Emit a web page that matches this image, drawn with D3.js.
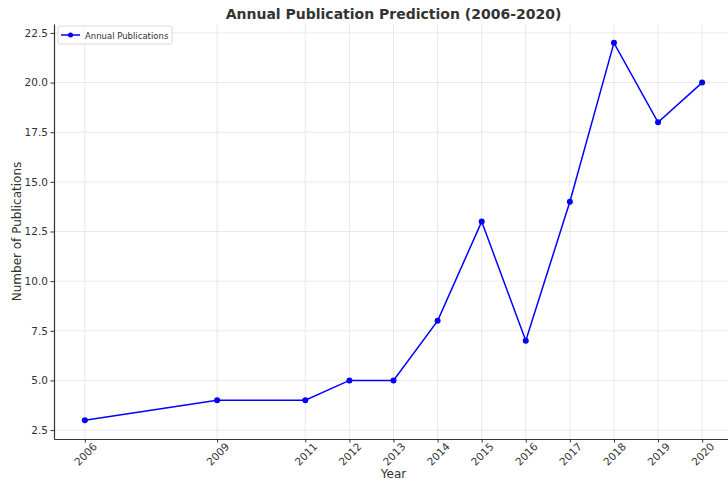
<!DOCTYPE html>
<html>
<head>
<meta charset="utf-8">
<script src="https://cdn.jsdelivr.net/npm/d3@7"></script>
<style>
  body { margin: 0; background: #fff; }
  svg, svg text { font-family: "DejaVu Sans", sans-serif; }
</style>
</head>
<body>
<svg id="chart" width="728" height="481"></svg>
<script>
const years = [2006, 2009, 2011, 2012, 2013, 2014, 2015, 2016, 2017, 2018, 2019, 2020];
const publications = [3, 4, 4, 5, 5, 8, 13, 7, 14, 22, 18, 20];
const yTicks = [2.5, 5.0, 7.5, 10.0, 12.5, 15.0, 17.5, 20.0, 22.5];

const width = 728;
const height = 481;
const margin = { top: 24, right: -5, bottom: 42, left: 54 };

const svg = d3.select("#chart");

const x = d3.scaleLinear()
  .domain([2005.3, 2020.7])
  .range([margin.left, width - margin.right]);

const y = d3.scaleLinear()
  .domain([2.05, 22.95])
  .range([height - margin.bottom, margin.top]);

// grid
const grid = svg.append("g");
grid.selectAll(".vg").data(years).join("line")
  .attr("x1", d => x(d)).attr("x2", d => x(d))
  .attr("y1", margin.top).attr("y2", height - margin.bottom)
  .attr("stroke", "#e3e3e3").attr("stroke-width", 0.8);
grid.selectAll(".hg").data(yTicks).join("line")
  .attr("x1", margin.left).attr("x2", width - margin.right)
  .attr("y1", d => y(d)).attr("y2", d => y(d))
  .attr("stroke", "#e3e3e3").attr("stroke-width", 0.8);

// axes
const xAxis = svg.append("g")
  .attr("transform", `translate(0,${height - margin.bottom})`)
  .attr("font-family", "DejaVu Sans, sans-serif")
  .call(d3.axisBottom(x).tickValues(years).tickFormat(d3.format("d")).tickSize(3.5).tickSizeOuter(0));
xAxis.select(".domain").attr("stroke", "#333").attr("stroke-width", 1.2);
xAxis.selectAll(".tick line").attr("stroke", "#333");
xAxis.selectAll(".tick text")
  .attr("fill", "#333")
  .attr("font-size", 10.5)
  .attr("text-anchor", "middle")
  .attr("dominant-baseline", "central")
  .attr("y", 0)
  .attr("dy", null)
  .attr("transform", "translate(0,15) rotate(-45)");

const yAxis = svg.append("g")
  .attr("transform", `translate(${margin.left},0)`)
  .attr("font-family", "DejaVu Sans, sans-serif")
  .call(d3.axisLeft(y).tickValues(yTicks).tickFormat(d3.format(".1f")).tickSize(3.5).tickSizeOuter(0));
yAxis.select(".domain").attr("stroke", "#333").attr("stroke-width", 1.2);
yAxis.selectAll(".tick line").attr("stroke", "#333");
yAxis.selectAll(".tick text").attr("fill", "#333").attr("font-size", 10.5).attr("x", -6);

// line + markers
const data = years.map((yr, i) => ({ year: yr, value: publications[i] }));
const line = d3.line().x(d => x(d.year)).y(d => y(d.value));
svg.append("path")
  .datum(data)
  .attr("fill", "none")
  .attr("stroke", "#0000ff")
  .attr("stroke-width", 1.5)
  .attr("d", line);
svg.selectAll(".pt").data(data).join("circle")
  .attr("cx", d => x(d.year))
  .attr("cy", d => y(d.value))
  .attr("r", 3)
  .attr("fill", "#0000ff");

// title and labels
svg.append("text")
  .attr("x", (margin.left + width - margin.right) / 2)
  .attr("y", 19)
  .attr("text-anchor", "middle")
  .attr("font-size", 14)
  .attr("font-weight", "bold")
  .attr("fill", "#333")
  .text("Annual Publication Prediction (2006-2020)");

svg.append("text")
  .attr("x", (margin.left + width - margin.right) / 2)
  .attr("y", 478)
  .attr("text-anchor", "middle")
  .attr("font-size", 12)
  .attr("fill", "#333")
  .text("Year");

svg.append("text")
  .attr("transform", `translate(21,${(margin.top + height - margin.bottom) / 2}) rotate(-90)`)
  .attr("text-anchor", "middle")
  .attr("font-size", 12)
  .attr("fill", "#333")
  .text("Number of Publications");

// legend
const legend = svg.append("g").attr("transform", "translate(58,26)");
legend.append("rect")
  .attr("width", 114).attr("height", 18).attr("rx", 2)
  .attr("fill", "#fff").attr("fill-opacity", 0.8)
  .attr("stroke", "#d0d0d0").attr("stroke-width", 0.8);
legend.append("line")
  .attr("x1", 3).attr("x2", 22).attr("y1", 9).attr("y2", 9)
  .attr("stroke", "#0000ff").attr("stroke-width", 1.5);
legend.append("circle").attr("cx", 12.5).attr("cy", 9).attr("r", 2.5).attr("fill", "#0000ff");
legend.append("text")
  .attr("x", 27).attr("y", 12.5)
  .attr("font-size", 8.5)
  .attr("fill", "#333")
  .text("Annual Publications");
</script>
</body>
</html>
